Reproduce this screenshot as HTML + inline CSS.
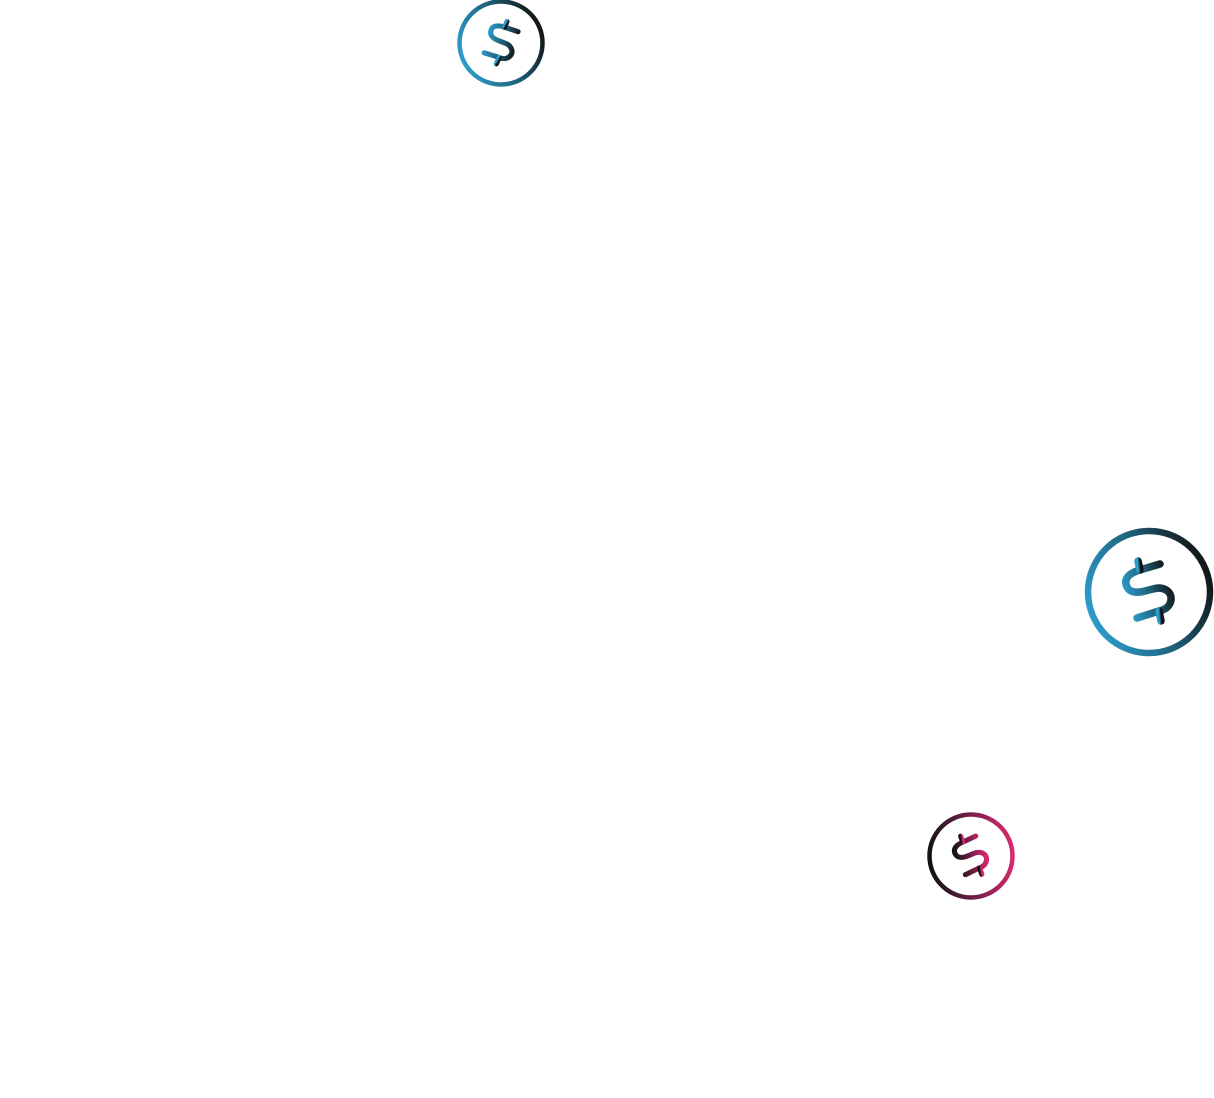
<!DOCTYPE html>
<html><head><meta charset="utf-8"><style>
html,body{margin:0;padding:0;background:#fff;width:1214px;height:1098px;overflow:hidden}
svg{position:absolute;left:0;top:0}
</style></head><body>
<svg width="1214" height="1098" viewBox="0 0 1214 1098">
<defs>
<linearGradient id="gb" x1="0" y1="0.7" x2="1" y2="0.3">
<stop offset="0" stop-color="#2e9dcc"/><stop offset="0.5" stop-color="#1f6580"/><stop offset="1" stop-color="#121212"/>
</linearGradient>
<linearGradient id="gp" x1="0" y1="0.55" x2="1" y2="0.45">
<stop offset="0" stop-color="#131313"/><stop offset="0.5" stop-color="#6e1f48"/><stop offset="1" stop-color="#d8286e"/>
</linearGradient>
<g id="dollar" fill="none" stroke-linecap="round" stroke-linejoin="round">
<path d="M11,-28 L-9,-22 C-20,-19 -26,-13 -22,-5 C-19,1 -11,1 -4,-1 L4,-3 C14,-6 23,-1 22,8 C21,15 15,18 10,19 L-12,26"/>
<path d="M-9,-22 L-11,-31"/>
<path d="M10,19 L12,29"/>
</g>
</defs>
<g transform="translate(1149,592)" stroke="url(#gb)">
<circle r="61" fill="none" stroke-width="6.5"/>
<use href="#dollar" stroke-width="7.5"/>
</g>
<g transform="translate(501,43)" stroke="url(#gb)">
<circle r="41.5" fill="none" stroke-width="4.5"/>
<g transform="scale(0.68) rotate(35)"><use href="#dollar" stroke-width="7.5"/></g>
</g>
<g transform="translate(971,856)" stroke="url(#gp)">
<circle r="41.5" fill="none" stroke-width="4.5"/>
<g transform="scale(0.68) rotate(-8)"><use href="#dollar" stroke-width="7.5"/></g>
</g>
</svg>
</body></html>
